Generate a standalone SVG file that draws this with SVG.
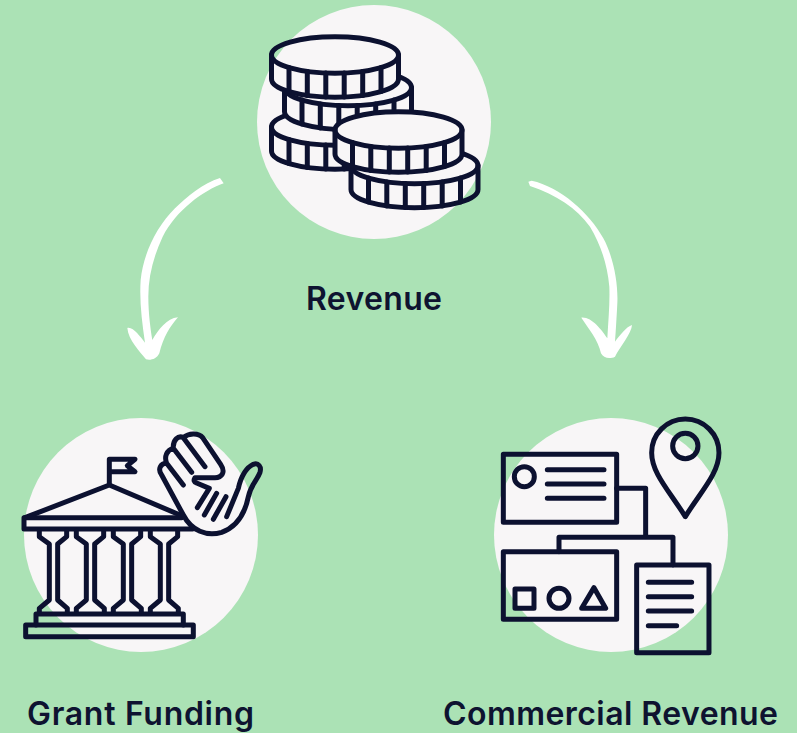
<svg xmlns="http://www.w3.org/2000/svg" xmlns:xlink="http://www.w3.org/1999/xlink" width="797" height="733" viewBox="0 0 797 733">
<style>
.disc{fill:#f8f6f7}
.ink{fill:none;stroke:#0c1130;stroke-linecap:round;stroke-linejoin:round}
.z{stroke-width:15}
.c{stroke-width:5}
.arrow{fill:#fff}
.label{font-family:"Inter","Liberation Sans",sans-serif;font-weight:600;font-size:32px;fill:#0e1330;text-anchor:middle}
</style>
<defs>
<g id="coin">
<ellipse rx="63.5" ry="18.3"/>
<path d="M-63.5 0v24A63.5 18.3 0 0 0 63.5 24V0"/>
<path d="M-46 12.6v24M-27.7 16.5v24M-9.2 18.1v24M9.2 18.1v24M27.7 16.5v24M46 12.6v24"/>
</g>
<path id="sil" d="M-63.5 0A63.5 18.3 0 0 1 63.5 0V24A63.5 18.3 0 0 1 -63.5 24Z"/>
<mask id="m2" maskUnits="userSpaceOnUse" x="0" y="0" width="797" height="733"><rect width="797" height="733" fill="#fff"/><use xlink:href="#sil" x="335" y="55" fill="#000"/><use xlink:href="#sil" x="398.5" y="130" fill="#000"/></mask>
<mask id="m3" maskUnits="userSpaceOnUse" x="0" y="0" width="797" height="733"><rect width="797" height="733" fill="#fff"/><use xlink:href="#sil" x="348" y="87.5" fill="#000"/><use xlink:href="#sil" x="398.5" y="130" fill="#000"/></mask>
<mask id="m5" maskUnits="userSpaceOnUse" x="0" y="0" width="797" height="733"><rect width="797" height="733" fill="#fff"/><use xlink:href="#sil" x="398.5" y="130" fill="#000"/></mask>
</defs>
<rect width="797" height="733" fill="#abe2b5"/>
<g id="connectors">
<path class="arrow" transform="translate(120 170) scale(.3333)" d="M300 24L311 40C250 62 170 120 128 200C100 260 85 320 85 380C85 430 92 480 97 510C115 480 140 445 174 442C150 470 130 500 118 550C110 568 90 572 78 568C60 545 25 510 22 474C40 470 60 500 75 518C65 450 58 390 62 330C70 250 110 170 165 115C200 80 250 40 300 24Z"/>
<path class="arrow" transform="translate(520 170) scale(.3333)" d="M25 35L35 32C120 50 210 130 250 205C280 260 295 340 292 400C290 440 287 490 285 515C300 495 320 470 336 465C335 490 300 530 285 560C270 568 250 565 243 550C235 510 205 475 184 443C215 440 245 480 262 505C265 450 270 400 268 350C262 280 240 220 210 170C170 115 110 75 30 48Z"/>
</g>
<g id="node-revenue">
<circle class="disc" cx="374" cy="122" r="117"/>
<g class="ink c">
<g mask="url(#m3)"><use xlink:href="#coin" x="335" y="127"/></g>
<g mask="url(#m2)"><use xlink:href="#coin" x="348" y="87.5"/></g>
<use xlink:href="#coin" x="335" y="55"/>
<g mask="url(#m5)"><use xlink:href="#coin" x="414.5" y="165.5"/></g>
<use xlink:href="#coin" x="398.5" y="130"/>
</g>
<text class="label" x="374" y="310" textLength="136">Revenue</text>
</g>
<g id="node-grant">
<circle class="disc" cx="141" cy="535" r="117"/>
<g class="ink z" transform="translate(10 420) scale(.3333)">
<path d="M298 190V118H375L352 137L375 155H298"/>
<path d="M45 293L298 195L510 285"/>
<path d="M515 293H42V327H548"/>
<path d="M88 333V350L118 372V540L88 565V580M170 333V350L143 372V540L172 565V580"/>
<path d="M199 333V350L229 372V540L199 565V580M281 333V350L254 372V540L283 565V580"/>
<path d="M310 333V350L340 372V540L310 565V580M392 333V350L365 372V540L394 565V580"/>
<path d="M421 333V350L451 372V540L421 565V580M503 333V350L476 372V540L505 565V580"/>
<path d="M78 615V582H520V615"/>
<path d="M47 615H550V650H47Z"/>
</g>
<g class="ink z" transform="translate(150 425) scale(.3333)">
<path d="M230 275L265 190C272 160 285 130 310 118C325 112 335 125 330 142C322 165 302 180 295 215C285 265 262 305 215 322C170 335 125 318 100 270L35 150C22 132 32 115 50 115L100 180M50 115C42 95 50 75 70 70L125 142M70 70C68 45 85 30 100 38L165 125M100 38C115 25 145 22 158 38L212 118C228 142 215 158 195 158H135C130 165 132 172 140 174L178 190L142 248M200 205L163 270M228 215L190 283"/>
</g>
<text class="label" x="140.500" y="725" textLength="227">Grant Funding</text>
</g>
<g id="node-commercial">
<circle class="disc" cx="611" cy="535" r="117"/>
<g class="ink z" transform="translate(490 410) scale(.3333)">
<circle cx="586" cy="108" r="38"/>
<path d="M586 320C540 245 485 190 485 128A101 101 0 0 1 687 128C687 190 632 245 586 320Z"/>
<rect x="40" y="133" width="340" height="204"/>
<circle cx="103" cy="200" r="30"/>
<path d="M172 179H342M172 222H342M172 265H342"/>
<path d="M380 235H467V382M207 425V382H549V465"/>
<rect x="40" y="425" width="340" height="203"/>
<rect x="75" y="537" width="57" height="58"/>
<circle cx="207" cy="565" r="30"/>
<path d="M312 533L347 595H275Z"/>
<rect x="440" y="465" width="217" height="263"/>
<path d="M475 517H605M475 560H605M475 603H605M475 647H560"/>
</g>
<text class="label" x="610.500" y="725" textLength="335">Commercial Revenue</text>
</g>
</svg>
